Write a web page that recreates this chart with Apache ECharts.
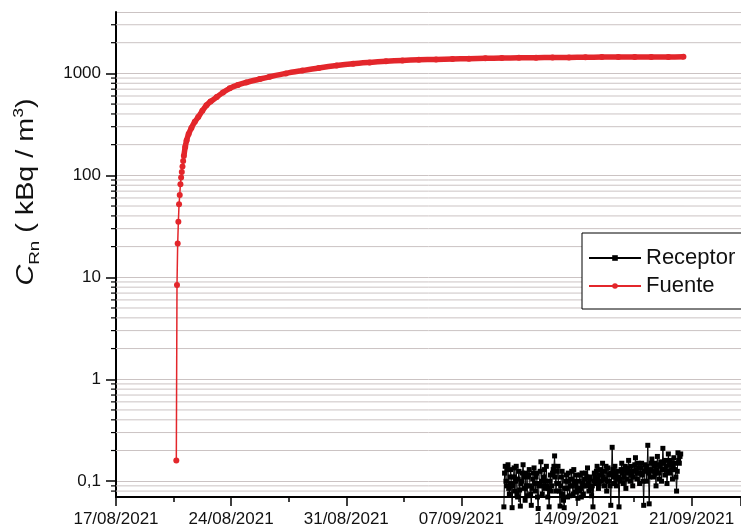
<!DOCTYPE html>
<html><head><meta charset="utf-8">
<script src="https://cdn.jsdelivr.net/npm/echarts@6/dist/echarts.min.js"></script>
<style>html,body{margin:0;padding:0;background:#fff}#c{width:741px;height:528px}</style>
</head><body><div id="c"></div>
<script>
// ---- data ----
const xStartDate = '2021-08-17T00:00:00Z';
const xMaxDays = 38;
const xTickDays = 7;
const yMin = 0.07, yMax = 4000;
const yMinorMultipliers = [2,3,4,5,6,7,8,9];
const yDecades = [0.01,0.1,1,10,100,1000];

const fuenteTimes = [
 '2021-08-20T16:00Z','2021-08-20T17:00Z','2021-08-20T18:00Z','2021-08-20T19:00Z','2021-08-20T20:00Z',
 '2021-08-20T21:00Z','2021-08-20T22:00Z','2021-08-20T23:00Z','2021-08-21T00:00Z','2021-08-21T01:00Z',
 '2021-08-21T02:00Z','2021-08-21T03:00Z','2021-08-21T05:00Z','2021-08-21T07:00Z','2021-08-21T10:00Z',
 '2021-08-21T14:00Z','2021-08-21T19:00Z','2021-08-22T00:00Z','2021-08-22T06:00Z','2021-08-22T12:00Z',
 '2021-08-22T18:00Z','2021-08-23T03:00Z','2021-08-23T12:00Z','2021-08-23T22:00Z','2021-08-24T10:00Z',
 '2021-08-24T22:00Z','2021-08-25T18:00Z','2021-08-26T08:00Z','2021-08-27T08:00Z','2021-08-28T08:00Z',
 '2021-08-29T08:00Z','2021-08-30T10:00Z','2021-08-31T10:00Z','2021-09-01T10:00Z','2021-09-02T10:00Z',
 '2021-09-03T10:00Z','2021-09-04T10:00Z','2021-09-05T11:00Z','2021-09-06T11:00Z','2021-09-07T11:00Z',
 '2021-09-08T11:00Z','2021-09-09T11:00Z','2021-09-10T12:00Z','2021-09-11T13:00Z','2021-09-12T13:00Z',
 '2021-09-13T13:00Z','2021-09-14T13:00Z','2021-09-15T13:00Z','2021-09-16T13:00Z','2021-09-17T13:00Z',
 '2021-09-18T13:00Z','2021-09-19T14:00Z','2021-09-20T12:00Z'
];
const fuenteValues = [
 0.16, 8.4, 21.4, 35, 52,
 64, 82, 95, 108, 122,
 138, 155, 190, 220, 255,
 292, 335, 373, 430, 486,
 530, 586, 650, 713, 770,
 816, 880, 925, 1000, 1065,
 1130, 1195, 1245, 1282, 1315,
 1341, 1358, 1372, 1384, 1394,
 1404, 1413, 1420, 1426, 1431,
 1435, 1440, 1445, 1447, 1448,
 1450, 1450, 1452
];
const fuenteDenseFrom = 11; // index from which the markers merge into a thick band

const receptorStart = '2021-09-09T14:00:00Z';
const receptorStepHours = 1;
const receptorValues = [
 0.056,0.12, 0.14,0.10, 0.09,0.13, 0.145,0.085, 0.075,0.11, 0.13,0.095, 0.055,0.09, 0.11,0.135, 0.08,0.10, 0.14,0.075,
 0.07,0.105, 0.125,0.082, 0.057,0.095, 0.10,0.12, 0.145,0.11, 0.085,0.065, 0.12,0.09, 0.072,0.11, 0.115,0.13, 0.09,0.075,
 0.058,0.085, 0.105,0.12, 0.135,0.095, 0.08,0.11, 0.12,0.07, 0.054,0.09, 0.095,0.125, 0.155,0.10, 0.075,0.09, 0.11,0.13,
 0.085,0.10, 0.14,0.09, 0.07,0.085, 0.056,0.10, 0.115,0.08, 0.09,0.12, 0.13,0.14, 0.177,0.11, 0.08,0.095, 0.125,0.14,
 0.095,0.08, 0.057,0.09, 0.11,0.125, 0.075,0.065, 0.055,0.085, 0.10,0.115, 0.085,0.07, 0.12,0.10, 0.072,0.09, 0.105,0.125,
 0.09,0.075, 0.13,0.10, 0.078,0.095, 0.115,0.085, 0.068,0.08, 0.10,0.115, 0.085,0.07, 0.12,0.095, 0.075,0.09, 0.105,0.12,
 0.09,0.11, 0.135,0.095, 0.08,0.105, 0.11,0.085, 0.072,0.09, 0.056,0.10, 0.12,0.11, 0.095,0.125, 0.14,0.105, 0.085,0.095,
 0.115,0.13, 0.10,0.12, 0.15,0.11, 0.09,0.105, 0.125,0.14, 0.08,0.10, 0.135,0.115, 0.10,0.09, 0.058,0.12, 0.215,0.13,
 0.11,0.095, 0.14,0.12, 0.09,0.105, 0.125,0.11, 0.056,0.10, 0.105,0.13, 0.15,0.12, 0.095,0.11, 0.13,0.14, 0.085,0.105,
 0.12,0.135, 0.16,0.125, 0.10,0.115, 0.14,0.12, 0.09,0.11, 0.125,0.145, 0.17,0.13, 0.105,0.12, 0.15,0.135, 0.095,0.12,
 0.135,0.15, 0.115,0.10, 0.058,0.125, 0.145,0.13, 0.10,0.14, 0.225,0.12, 0.06,0.11, 0.13,0.15, 0.165,0.125, 0.11,0.14,
 0.15,0.12, 0.09,0.13, 0.175,0.145, 0.12,0.105, 0.14,0.155, 0.10,0.13, 0.21,0.15, 0.13,0.115, 0.16,0.14, 0.095,0.125,
 0.185,0.145, 0.12,0.16, 0.15,0.13, 0.105,0.14, 0.17,0.15, 0.13,0.11, 0.08,0.125, 0.19,0.16, 0.15,0.175, 0.185
];

// ---- build ----
const DAY = 86400000;
const base = Date.parse(xStartDate);
const toDays = t => (Date.parse(t) - base) / DAY;
const fuenteData = fuenteTimes.map((t, i) => [toDays(t), fuenteValues[i]]);
const rs = toDays(receptorStart);
const receptorData = receptorValues.map((v, i) => [rs + i * receptorStepHours / 24, v]);
const minorVals = [];
yDecades.forEach(d => yMinorMultipliers.forEach(m => {
  const v = Number((m * d).toPrecision(6));
  if (v > yMin && v < yMax) minorVals.push([0, v]);
}));

const gridColor = '#cbc3c3';
const font = '"Liberation Sans", Arial, sans-serif';
const pad = n => (n < 10 ? '0' : '') + n;

const chart = echarts.init(document.getElementById('c'), null, {renderer: 'canvas'});
chart.setOption({
  animation: false,
  backgroundColor: '#fff',
  textStyle: {fontFamily: font},
  grid: {left: 116, right: 0, top: 12, bottom: 31, outerBoundsMode: 'none'},
  xAxis: {
    type: 'value', min: 0, max: xMaxDays, interval: xTickDays,
    axisLine: {lineStyle: {color: '#000', width: 2}},
    axisTick: {length: 9, lineStyle: {color: '#000', width: 1.5}},
    minorTick: {show: true, splitNumber: 2, length: 5, lineStyle: {color: '#000', width: 1.5}},
    splitLine: {show: false},
    axisLabel: {
      color: '#111', fontSize: 17, fontFamily: font, margin: 14, showMaxLabel: false,
      formatter: d => { const dt = new Date(base + d * DAY); return pad(dt.getUTCDate()) + '/' + pad(dt.getUTCMonth() + 1) + '/' + dt.getUTCFullYear(); }
    }
  },
  yAxis: {
    type: 'log', logBase: 10, min: yMin, max: yMax,
    axisLine: {show: true, lineStyle: {color: '#000', width: 2}},
    axisTick: {show: true, length: 10, lineStyle: {color: '#000', width: 1.5}},
    splitLine: {show: true, lineStyle: {color: gridColor, width: 1}},
    axisLabel: {
      color: '#111', fontSize: 17, fontFamily: font, margin: 15, showMinLabel: false, showMaxLabel: false,
      formatter: v => String(Number(v.toPrecision(6))).replace('.', ',')
    }
  },
  legend: {
    data: ['Receptor', 'Fuente'],
    orient: 'vertical', left: 582, top: 233,
    padding: [14, 12, 12, 6], itemGap: 6,
    itemWidth: 52, itemHeight: 7,
    borderColor: '#000', borderWidth: 1, backgroundColor: '#fff',
    textStyle: {fontSize: 22, color: '#111', fontFamily: font},
    selectedMode: false
  },
  graphic: [{
    type: 'text', x: 27, y: 192, rotation: Math.PI / 2, scaleX: 1.25,
    style: {
      text: '{c|C}{s|Rn}{t| ( kBq / m}{p|3}{t|)}',
      align: 'center', verticalAlign: 'middle',
      rich: {
        c: {fontSize: 23, fontStyle: 'italic', fontFamily: font, fill: '#111', lineHeight: 30, verticalAlign: 'middle'},
        s: {fontSize: 15, fontFamily: font, fill: '#111', lineHeight: 30, verticalAlign: 'bottom'},
        t: {fontSize: 23, fontFamily: font, fill: '#111', lineHeight: 30, verticalAlign: 'middle'},
        p: {fontSize: 14, fontFamily: font, fill: '#111', lineHeight: 30, verticalAlign: 'top'}
      }
    }
  }],
  series: [
    {
      type: 'custom', silent: true, z: 1, clip: false,
      data: minorVals,
      renderItem: (params, api) => {
        const v = api.value(1);
        const p0 = api.coord([0, v]);
        const p1 = api.coord([xMaxDays, v]);
        return {type: 'group', children: [
          {type: 'line', shape: {x1: p0[0], y1: p0[1], x2: p1[0], y2: p1[1]}, style: {stroke: gridColor, lineWidth: 1}},
          {type: 'line', shape: {x1: p0[0] - 5, y1: p0[1], x2: p0[0], y2: p0[1]}, style: {stroke: '#000', lineWidth: 1.2}}
        ]};
      }
    },
    {
      name: 'Receptor', type: 'line', data: receptorData, clip: false, z: 3,
      symbol: 'rect', symbolSize: 5, showAllSymbol: true,
      itemStyle: {color: '#000'}, lineStyle: {color: '#000', width: 1}
    },
    {
      name: 'Fuente', type: 'line', data: fuenteData, z: 4,
      symbol: 'circle', symbolSize: 6, showAllSymbol: true,
      itemStyle: {color: '#e3262b'}, lineStyle: {color: '#e3262b', width: 1.5}
    },
    {
      name: 'Fuente', type: 'line', data: fuenteData.slice(fuenteDenseFrom), z: 4,
      symbol: 'none', smooth: 0.3,
      itemStyle: {color: '#e3262b'}, lineStyle: {color: '#e3262b', width: 5.5}
    }
  ]
});
</script></body></html>
